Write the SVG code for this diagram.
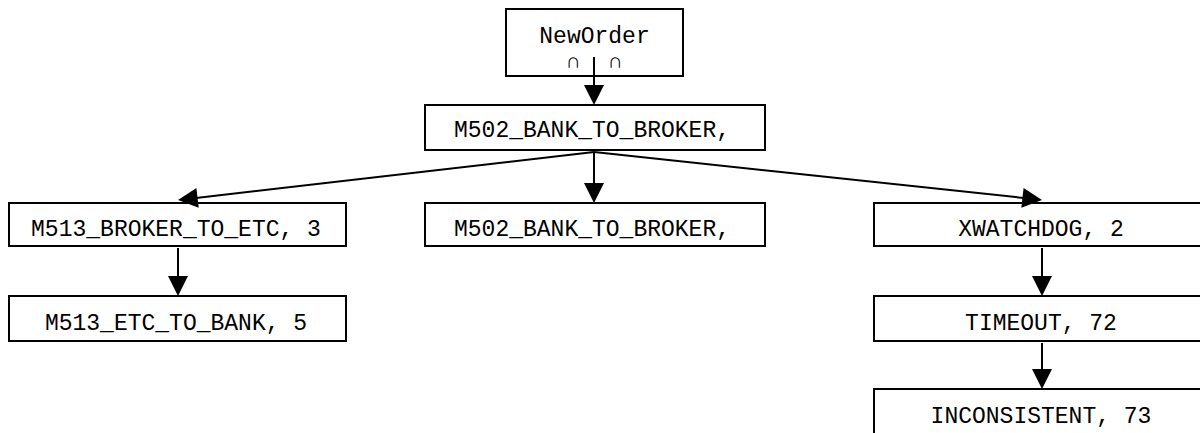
<svg xmlns="http://www.w3.org/2000/svg" width="1200" height="433" viewBox="0 0 1200 433">
<defs>
<style>
.box{fill:#fff;stroke:#000;stroke-width:2}
.t{font-family:"Liberation Mono","DejaVu Sans Mono",monospace;font-size:23px;fill:#000;text-anchor:middle}
.s{font-family:"Liberation Mono","DejaVu Sans Mono",monospace;font-size:21px;fill:#000;text-anchor:middle}
.e{stroke:#000;stroke-width:2;fill:none}
.ah{fill:#000}
</style>
</defs>
<rect width="1200" height="433" fill="#fff"/>
<g id="n-neworder">
<rect class="box" x="506" y="9" width="177" height="67"/>
<text class="t" x="594.5" y="43">NewOrder</text>
<text class="s" x="573" y="68">∩</text>
<text class="s" x="615" y="68">∩</text>
</g>
<g id="n-m502-top">
<rect class="box" x="425" y="105" width="340" height="45"/>
<text class="t" x="592" y="137">M502_BANK_TO_BROKER,</text>
</g>
<g id="n-m513-broker">
<rect class="box" x="9" y="203" width="337" height="43"/>
<text class="t" x="176" y="236">M513_BROKER_TO_ETC, 3</text>
</g>
<g id="n-m502-mid">
<rect class="box" x="425" y="203" width="340" height="43"/>
<text class="t" x="592" y="236">M502_BANK_TO_BROKER,</text>
</g>
<g id="n-xwatchdog">
<rect class="box" x="874" y="203" width="340" height="43"/>
<text class="t" x="1041" y="236">XWATCHDOG, 2</text>
</g>
<g id="n-m513-etc">
<rect class="box" x="9" y="296" width="337" height="45"/>
<text class="t" x="176" y="330">M513_ETC_TO_BANK, 5</text>
</g>
<g id="n-timeout">
<rect class="box" x="874" y="296" width="340" height="45"/>
<text class="t" x="1041" y="330">TIMEOUT, 72</text>
</g>
<g id="n-inconsistent">
<rect class="box" x="874" y="389" width="340" height="60"/>
<text class="t" x="1041" y="423">INCONSISTENT, 73</text>
</g>
<g id="connectors">
<line class="e" x1="594" y1="57" x2="594" y2="86"/>
<path class="ah" d="M584,85 L604,85 L594,105 Z"/>
<line class="e" x1="594" y1="152" x2="594" y2="184"/>
<path class="ah" d="M584,183 L604,183 L594,203 Z"/>
<line class="e" x1="594" y1="152" x2="196" y2="198"/>
<path class="ah" d="M178,200 L196.4,187.9 L198.7,207.8 Z"/>
<line class="e" x1="594" y1="152" x2="1024" y2="198"/>
<path class="ah" d="M1042,200 L1021.3,207.8 L1023.6,187.9 Z"/>
<line class="e" x1="178" y1="248" x2="178" y2="277"/>
<path class="ah" d="M168,276 L188,276 L178,296 Z"/>
<line class="e" x1="1042" y1="248" x2="1042" y2="277"/>
<path class="ah" d="M1032,276 L1052,276 L1042,296 Z"/>
<line class="e" x1="1042" y1="343" x2="1042" y2="370"/>
<path class="ah" d="M1032,369 L1052,369 L1042,389 Z"/>
</g>
</svg>
